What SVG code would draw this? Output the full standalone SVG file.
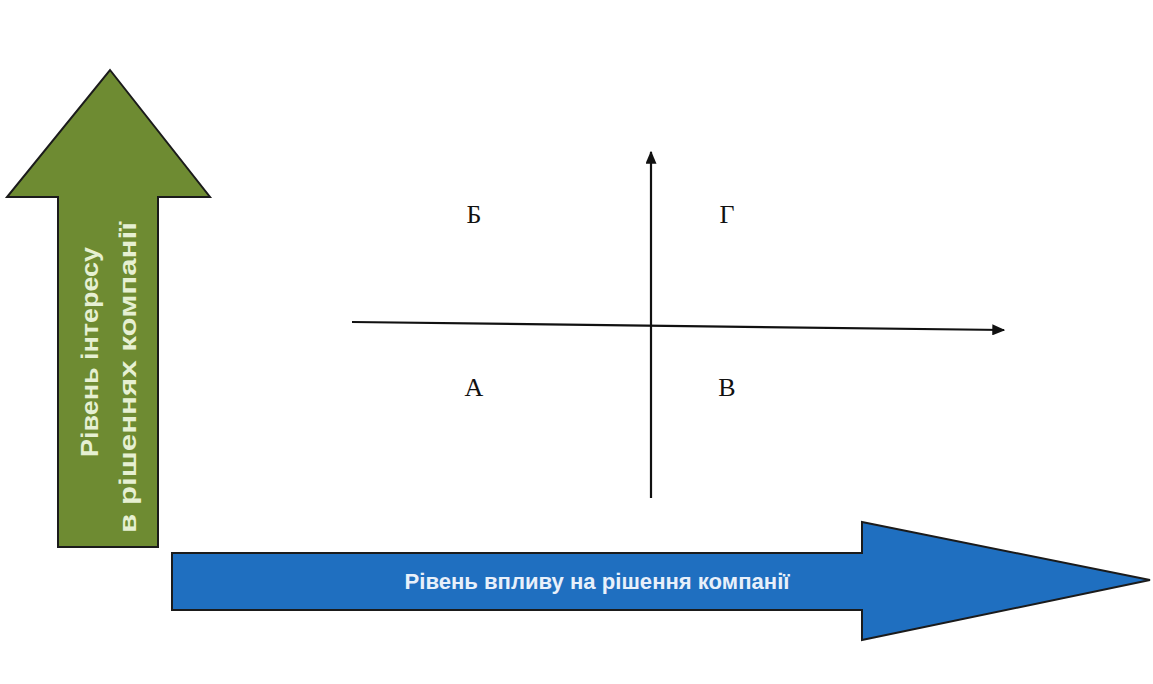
<svg xmlns="http://www.w3.org/2000/svg" width="1153" height="684" viewBox="0 0 1153 684">
<defs>
<style>
.big{stroke:#1b1b1b;stroke-width:2;stroke-linejoin:miter}
.lbl{font-family:"Liberation Sans",Arial,sans-serif;font-weight:bold}
.q{font-family:"Liberation Serif","Times New Roman",serif;font-size:26px;fill:#111;text-anchor:middle}
.axis{stroke:#111;stroke-width:2.2;fill:none}
</style>
<marker id="ah" viewBox="0 0 10 10" refX="9" refY="5" markerWidth="13" markerHeight="11" markerUnits="userSpaceOnUse" orient="auto" preserveAspectRatio="none">
<path d="M0,0 L10,5 L0,10 Z" fill="#111"/>
</marker>
</defs>
<rect width="1153" height="684" fill="#ffffff"/>
<g id="interest-arrow">
<polygon class="big" fill="#6e8b32" points="110,70 210,197 158,197 158,547 58,547 58,197 7,197"/>
<text class="lbl" fill="#e6f0d2" font-size="24" transform="translate(98,457) rotate(-90)" textLength="210" lengthAdjust="spacingAndGlyphs">Рівень інтересу</text>
<text class="lbl" fill="#e6f0d2" font-size="24" transform="translate(136,533) rotate(-90)" textLength="311" lengthAdjust="spacingAndGlyphs">в рішеннях компанії</text>
</g>
<g id="influence-arrow">
<polygon class="big" fill="#1f6fc0" points="172,553 862,553 862,522 1150,580 862,640 862,610 172,610"/>
<text class="lbl" fill="#e8f0fa" font-size="22" x="597" y="589" text-anchor="middle" textLength="385" lengthAdjust="spacingAndGlyphs">Рівень впливу на рішення компанії</text>
</g>
<g id="connectors">
<line class="axis" x1="651" y1="498" x2="651" y2="152" marker-end="url(#ah)"/>
<line class="axis" x1="352" y1="322" x2="1004" y2="330" marker-end="url(#ah)"/>
</g>
<g id="quadrant-B"><text class="q" x="474" y="223">Б</text></g>
<g id="quadrant-G"><text class="q" x="727" y="223">Г</text></g>
<g id="quadrant-A"><text class="q" x="474" y="396">А</text></g>
<g id="quadrant-V"><text class="q" x="727" y="396">В</text></g>
</svg>
